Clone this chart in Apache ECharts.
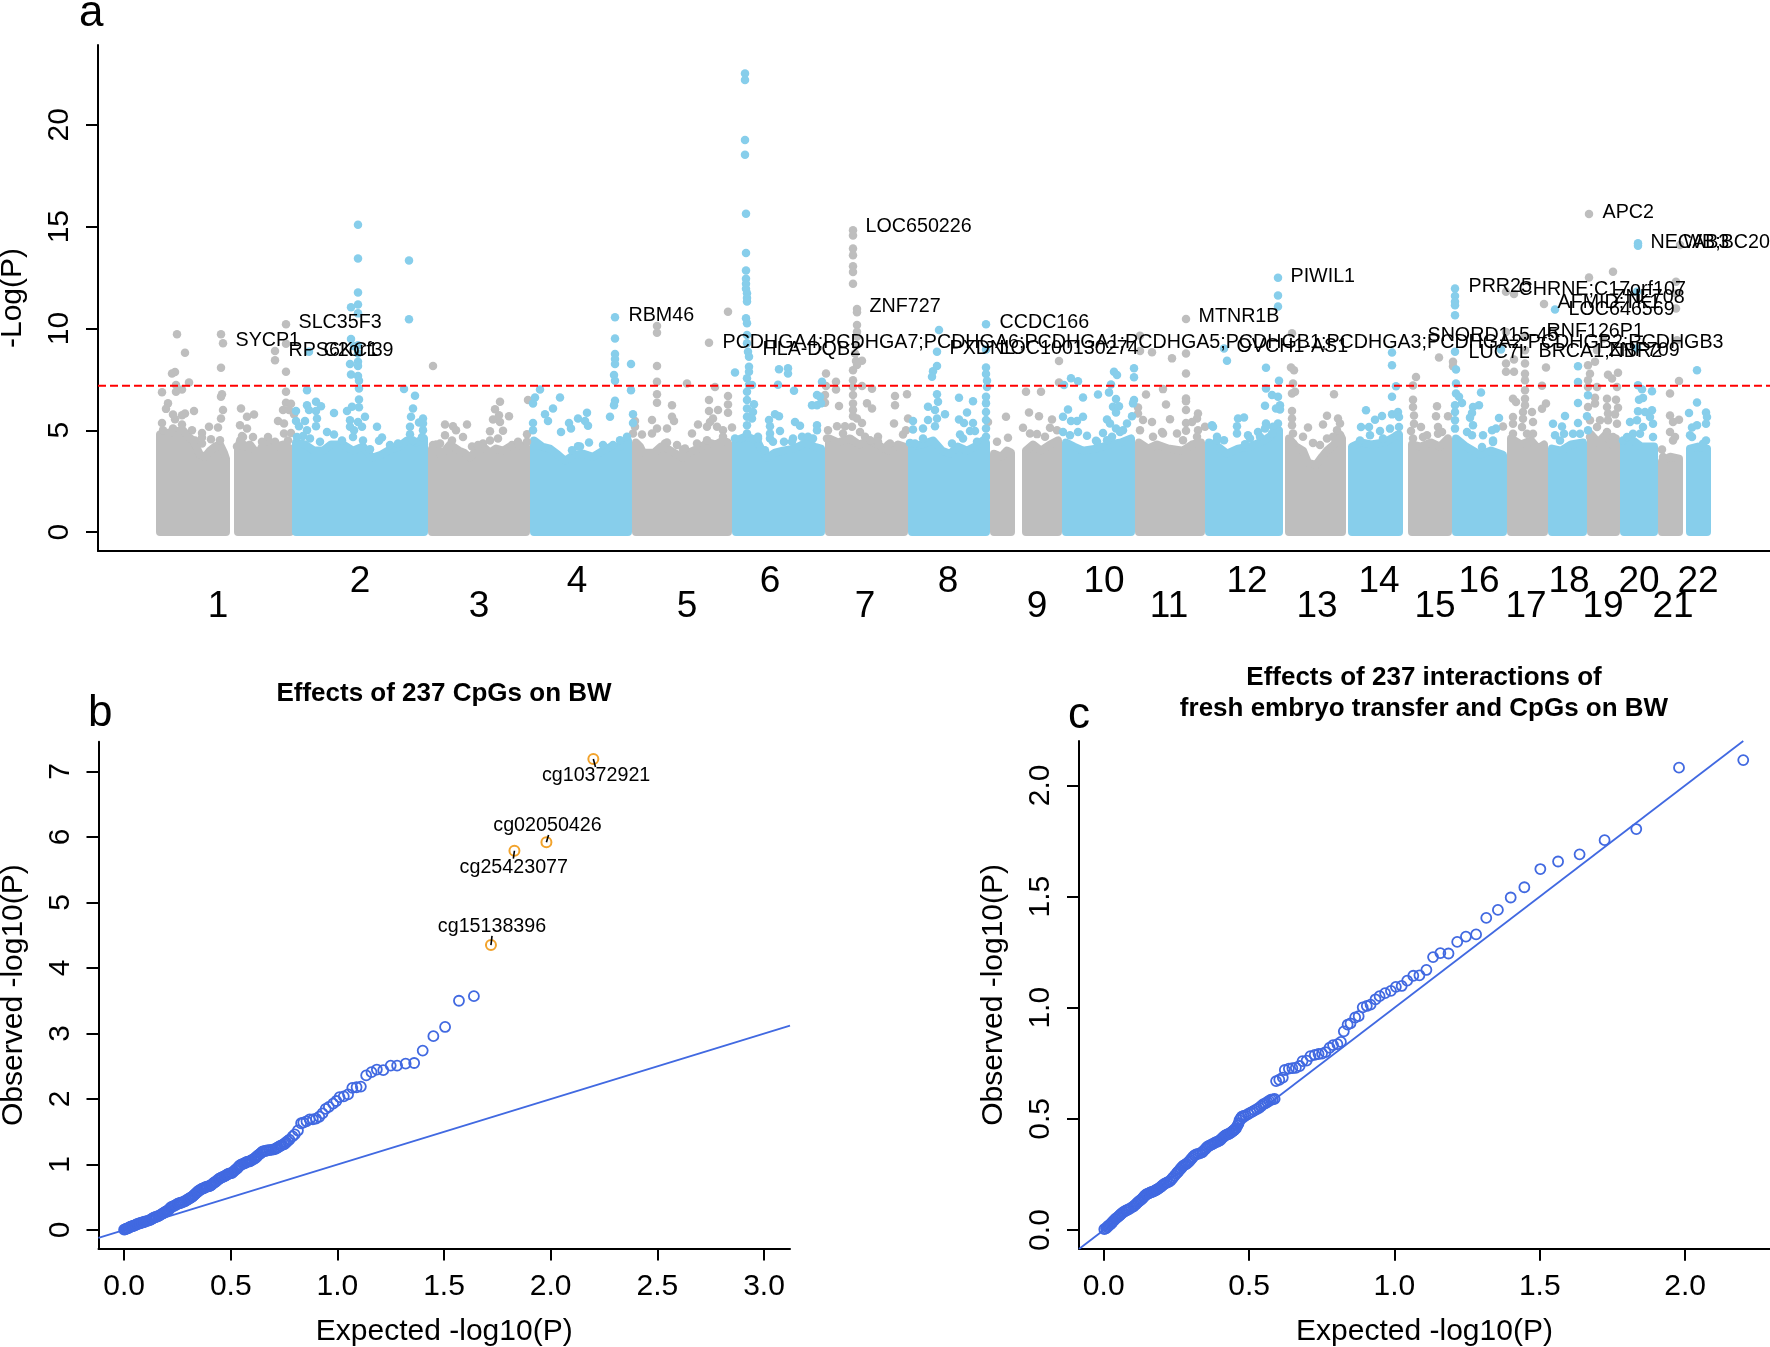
<!DOCTYPE html>
<html><head><meta charset="utf-8">
<style>html,body{margin:0;padding:0;background:#fff}#c{width:1770px;height:1347px}</style>
<script src="https://cdn.jsdelivr.net/npm/echarts@6/dist/echarts.min.js"></script>
</head><body><div id="c"></div>
<script>
const chrNames = ['1','2','3','4','5','6','7','8','9','10','11','12','13','14','15','16','17','18','19','20','21','22'];
const chrLabelPos = [62,204,323,421,531,614,709,792,881,948,1013,1091,1161,1223,1279,1323,1370,1413,1447,1483,1517,1542];
const threshold = 7.19;

// Upper envelope of the dense mass of each chromosome (genome position, -log P)
const grayMasses = [
 [[4,4.8],[15,4.9],[27,5.0],[32,4.7],[37,4.5],[41,4.1],[44,3.8],[49,3.7],[54,4.0],[59,4.2],[64,4.3],[68,3.9],[70,3.6]],
 [[82,4.0],[84,4.5],[89,4.2],[94,4.3],[100,3.9],[104,4.0],[108,4.4],[112,4.5],[120,4.2],[127,4.3],[134,4.1]],
 [[276,4.1],[280,4.3],[284,3.85],[289,4.0],[294,4.3],[303,4.0],[308,3.9],[314,3.65],[320,4.0],[327,4.2],[334,3.9],[340,4.1],[347,4.0],[354,4.2],[361,4.3],[370,4.2]],
 [[480,4.4],[484,4.2],[487,3.9],[498,3.9],[505,4.2],[511,4.1],[518,3.9],[527,3.65],[535,3.95],[544,4.15],[552,4.4],[560,4.3],[567,4.5],[572,4.4]],
 [[673,4.6],[682,4.4],[694,4.6],[703,4.3],[714,4.5],[722,4.3],[728,4.1],[734,4.0],[742,4.3],[748,4.2]],
 [[838,3.85],[845,3.7],[851,4.0],[855,3.9]],
 [[870,4.0],[877,4.3],[885,4.0],[894,4.3],[902,4.5]],
 [[983,4.4],[992,4.1],[1001,4.3],[1012,4.1],[1027,4.0],[1036,4.3],[1045,4.4]],
 [[1133,4.6],[1140,4.2],[1147,4.0],[1152,3.4],[1160,3.3],[1166,3.7],[1171,4.0],[1178,4.3],[1184,4.8],[1186,4.6]],
 [[1256,4.3],[1265,4.2],[1275,4.4],[1284,4.2],[1292,4.6]],
 [[1355,4.6],[1365,4.3],[1375,4.5],[1382,4.1],[1388,4.3]],
 [[1435,4.8],[1442,4.4],[1450,4.8],[1456,4.3],[1460,4.6]],
 [[1506,3.5],[1514,3.7],[1523,3.6]]
];
const blueMasses = [
 [[140,4.4],[149,4.3],[158,4.0],[167,4.0],[175,4.3],[187,4.3],[197,4.0],[207,4.2],[212,3.9],[216,3.65],[225,3.8],[234,4.05],[243,4.2],[251,4.5],[260,4.4],[268,4.6]],
 [[378,4.5],[386,4.2],[394,4.1],[402,3.8],[409,3.5],[418,3.8],[427,3.85],[437,3.7],[447,4.0],[455,4.2],[464,4.2],[472,4.5]],
 [[580,4.5],[590,4.7],[601,4.5],[606,4.0],[611,3.65],[619,3.9],[627,4.0],[638,4.1],[651,4.4],[658,4.2],[665,4.1]],
 [[756,4.2],[766,4.3],[777,4.5],[786,4.0],[794,3.85],[802,4.2],[811,4.0],[819,4.2],[827,4.5],[830,4.4]],
 [[910,4.4],[918,4.2],[927,4.0],[940,4.1],[954,4.3],[965,4.4],[975,4.6]],
 [[1053,4.4],[1062,4.2],[1071,3.85],[1082,4.1],[1094,4.2],[1108,4.5],[1123,5.0]],
 [[1196,4.2],[1205,4.4],[1215,4.3],[1228,4.4],[1243,4.8]],
 [[1300,4.6],[1310,4.2],[1324,3.8],[1335,4.0],[1347,3.8]],
 [[1396,4.1],[1405,4.0],[1415,4.3],[1427,4.4]],
 [[1468,4.4],[1477,4.5],[1485,4.2],[1498,4.2]],
 [[1534,4.1],[1542,4.2],[1551,4.1]]
];

const grayPoints = [
 [21,9.71],[65,9.71],[67,9.27],[29,8.81],[65,8.07],[19,7.86],[16,7.79],[33,7.35],[20,7.22],[26,7.0],[6,6.87],[20,6.89],[66,6.77],[65,6.64],[12,6.32],[10,6.05],[38,5.95],[67,5.99],[29,5.82],[26,5.74],[17,5.77],[19,5.54],[65,5.58],[6,5.36],[26,5.28],[53,5.17],[62,5.13],[36,5.0],[46,4.87],[46,4.64],[55,4.56],[64,4.51],
 [85,6.07],[91,5.66],[98,5.77],[84,5.25],[91,5.09],[86,4.72],[97,4.67],[112,4.67],
 [130,10.2],[130,9.25],[119,8.89],[119,8.44],[130,7.87],[130,6.89],[130,6.35],[135,6.3],[127,6.0],[133,6.0],[138,5.79],[122,5.45],[128,5.33],[128,4.84],[135,4.87],
 [289,5.28],[297,5.2],[311,5.28],[300,5.0],[289,4.76],[307,4.67],[277,8.15],[344,6.4],[339,6.03],[343,5.74],[353,5.69],[337,5.53],[344,5.41],[334,4.95],[347,4.97],[372,6.48],[371,4.8],[327,4.35],
 [501,10.12],[501,9.79],[501,8.15],[501,7.38],[501,6.77],[501,6.35],[531,7.3],[559,7.12],[553,6.48],[572,6.68],[572,6.27],[572,5.86],[553,5.95],[562,5.99],[516,6.23],[516,5.66],[518,5.45],[496,5.5],[511,5.09],[501,5.09],[496,4.84],[486,4.79],[479,5.45],[479,5.17],[557,5.58],[554,5.41],[542,5.28],[551,5.17],[536,4.84],[561,5.17],[567,5.0],[576,5.14],[477,4.84],[553,9.3],[572,10.82],[511,4.4],[527,4.05],
 [697,14.82],[697,14.57],[697,13.92],[697,13.6],[697,13.05],[697,12.77],[697,12.2],[701,10.95],[701,10.8],[701,10.17],[701,9.84],[701,9.6],[700,9.18],[699,8.77],[706,8.41],[700,8.4],[697,7.95],[701,8.2],[670,7.79],[680,7.38],[697,7.46],[697,7.13],[706,7.17],[680,7.0],[716,7.04],[670,7.17],[669,6.73],[669,6.35],[683,6.19],[697,6.73],[697,6.31],[697,5.99],[711,6.32],[716,6.07],[739,6.68],[739,6.23],[751,6.77],[752,5.58],[738,5.33],[747,4.79],[697,5.69],[701,5.58],[706,5.36],[696,5.17],[681,5.2],[689,5.2],[672,5.0],[704,4.92],[722,4.68],[709,4.68],[734,4.35],[750,5.0],
 [850,5.66],[841,4.43],[852,4.63],[832,5.41],[903,8.4],[903,7.35],[870,6.89],[885,6.89],[873,5.87],[883,5.69],[867,5.12],[896,5.53],[894,5.12],[874,4.84],[881,4.81],[901,5.0],[889,4.68],
 [984,9.64],[984,8.89],[996,8.83],[1016,8.53],[1030,8.77],[1030,10.46],[1030,7.79],[1007,7.02],[990,6.76],[1030,6.56],[1030,6.43],[1010,6.27],[1030,5.99],[982,6.12],[982,5.82],[987,5.5],[996,5.41],[1042,5.82],[1041,5.58],[1014,5.54],[1030,5.36],[1036,5.41],[1030,4.97],[1006,4.92],[1021,4.84],[1042,5.0],[1049,5.17],[984,5.0],
 [1136,9.76],[1135,8.08],[1138,7.95],[1137,7.3],[1136,6.81],[1139,6.89],[1178,6.77],[1136,5.95],[1136,5.58],[1136,5.25],[1171,5.71],[1152,5.14],[1167,5.28],[1182,5.58],[1184,5.33],[1147,4.68],[1137,4.84],[1171,4.6],[1157,4.38],[1181,5.0],
 [1260,7.62],[1257,7.2],[1283,8.57],[1297,8.36],[1297,8.14],[1257,6.5],[1257,6.14],[1258,5.73],[1258,5.32],[1281,6.18],[1280,5.69],[1292,5.69],[1255,4.96],[1265,5.16],[1282,5.16],[1271,4.75],[1286,4.91],[1257,4.59],
 [1350,11.8],[1358,11.69],[1350,9.83],[1369,9.59],[1358,8.47],[1350,8.28],[1350,7.87],[1358,7.87],[1369,8.28],[1369,8.93],[1369,7.78],[1369,7.46],[1369,6.96],[1369,6.55],[1357,6.55],[1360,6.39],[1369,6.23],[1367,5.9],[1376,5.9],[1357,5.65],[1367,5.57],[1377,5.41],[1347,5.19],[1357,5.32],[1366,5.16],[1388,11.2],[1390,8.08],[1386,7.18],[1390,6.31],[1386,6.06],[1377,4.83],
 [1433,15.62],[1433,12.5],[1457,12.78],[1432,8.19],[1439,8.36],[1434,7.78],[1432,7.46],[1452,7.73],[1456,7.54],[1462,7.82],[1441,7.13],[1461,7.13],[1432,7.13],[1439,6.6],[1451,6.55],[1460,6.5],[1439,6.31],[1432,6.14],[1451,6.14],[1462,6.11],[1452,5.82],[1459,5.78],[1444,5.49],[1434,5.49],[1452,5.49],[1461,5.32],[1441,5.16],[1451,4.91],[1441,8.93],[1447,9.5],
 [1520,12.29],[1520,11.72],[1520,10.98],[1524,14.1],[1523,7.42],[1514,6.8],[1521,9.42],[1514,5.73],[1523,5.52],[1517,5.41],[1514,4.92],[1506,4.05],[1519,4.67],
 [7,5.0],[17,5.09],[39,4.5],[46,4.35],[81,4.2],[87,4.67],[106,4.43],[119,4.43],[132,4.5],
 [277,4.27],[284,4.35],[296,4.5],[316,4.2],[322,4.27],[334,4.5],[342,4.6],[356,4.27],[362,4.43],[371,4.43],
 [509,4.35],[521,4.27],[529,4.1],[541,4.35],[551,4.51],[567,4.68],[671,4.6],[687,4.84],[714,4.51],[722,4.43],[732,4.27],
 [997,4.68],[1007,4.84],[1027,4.51],[1041,4.68],[1137,4.35],[1164,4.27],[1177,4.68],[1267,4.67],[1282,4.83],[1357,4.83],[1371,4.83],[1434,4.67],[1457,4.67],[1517,4.5],[1507,3.69]
];
const bluePoints = [
 [202,15.09],[202,13.43],[253,13.34],[202,11.76],[195,11.04],[202,11.18],[202,10.74],[253,10.45],[195,9.48],[202,9.18],[198,9.13],[153,8.85],[202,8.77],[194,8.25],[202,8.36],[202,8.15],[195,7.74],[202,7.66],[203,7.43],[203,7.05],[151,6.97],[248,7.03],[259,6.7],[203,6.51],[203,6.13],[196,6.15],[191,5.94],[151,6.23],[160,6.4],[165,6.18],[153,5.99],[160,5.95],[178,5.85],[161,5.58],[257,6.07],[255,5.66],[267,5.58],[263,5.38],[254,5.17],[267,5.0],[140,5.95],[149,5.46],[140,5.45],[143,5.2],[160,5.2],[151,5.0],[147,4.72],[194,5.49],[209,5.66],[202,5.41],[194,5.17],[206,5.17],[198,5.0],[221,5.17],[171,4.92],[178,4.79],[226,4.64],[223,4.48],[214,4.07],[254,4.8],
 [384,7.0],[379,6.61],[377,6.31],[389,5.79],[392,5.45],[377,5.36],[377,5.0],[397,6.07],[404,6.61],[413,5.36],[415,5.09],[422,5.58],[431,5.86],[429,5.45],[432,5.22],[405,4.92],[433,4.4],[447,4.27],[422,4.22],[416,4.02],[464,4.51],[471,4.68],[459,10.55],[459,9.51],[459,8.74],[459,8.5],[459,8.25],[458,7.71],[459,7.43],[475,8.25],[475,6.97],[459,6.45],[458,6.23],[454,5.66],[477,5.79],[477,5.36],
 [589,22.52],[589,22.2],[589,19.25],[589,18.53],[590,15.63],[590,13.7],[590,12.85],[590,12.44],[590,12.2],[590,11.95],[591,11.73],[591,11.5],[591,11.32],[590,10.5],[591,10.25],[591,9.68],[591,9.27],[592,8.86],[593,8.61],[593,8.12],[593,7.87],[591,7.55],[593,7.22],[591,6.89],[591,6.48],[591,6.07],[591,5.66],[591,5.25],[591,4.84],[579,7.84],[623,8.0],[632,8.04],[632,7.79],[596,7.22],[622,7.23],[638,6.94],[598,6.28],[597,5.9],[596,5.58],[619,5.79],[623,5.69],[613,5.5],[614,5.2],[639,5.41],[644,5.22],[624,4.96],[614,4.84],[614,4.6],[617,4.43],[602,4.68],[661,5.25],[661,5.0],[637,4.6],[646,4.68],[652,4.68],[628,4.43],[666,7.38],[661,6.73],[664,6.64],[656,6.23],[661,6.23],[665,6.32],
 [783,9.92],[781,8.86],[781,8.15],[777,7.9],[776,7.63],[781,6.77],[782,6.4],[772,6.15],[779,5.99],[789,5.79],[781,5.58],[772,5.5],[779,5.2],[767,5.09],[757,5.46],[757,5.04],[754,4.38],[803,6.6],[817,6.43],[811,5.87],[803,5.53],[808,5.36],[817,5.36],[814,4.96],[819,4.96],[804,4.79],[821,4.43],[796,4.35],[807,4.6],[830,10.2],[830,8.97],[830,8.08],[830,7.76],[831,7.43],[831,7.13],[830,6.64],[830,6.32],[830,5.9],[830,5.5],[830,5.09],[830,4.68],
 [915,7.55],[922,7.41],[908,7.22],[927,6.61],[942,6.76],[953,6.86],[955,7.25],[958,7.87],[961,7.71],[978,8.04],[978,7.6],[960,6.53],[957,6.15],[963,6.18],[960,5.87],[978,6.48],[977,6.32],[912,6.02],[907,5.66],[915,5.46],[921,5.46],[927,5.66],[951,5.53],[954,5.33],[976,5.69],[960,5.09],[971,5.33],[967,5.0],[947,4.87],[956,4.68],[931,4.73],[907,4.92],[922,4.92],[940,4.48],
 [1122,12.49],[1122,11.62],[1122,11.08],[1068,9.02],[1071,8.41],[1110,8.07],[1123,7.43],[1110,7.05],[1116,6.73],[1122,6.64],[1124,6.23],[1109,6.2],[1120,6.07],[1124,6.02],[1082,5.58],[1088,5.63],[1110,5.33],[1081,5.2],[1122,5.33],[1117,5.17],[1056,5.25],[1057,5.17],[1081,4.84],[1092,4.76],[1102,4.92],[1061,4.68],[1068,4.51],[1089,4.31],[1109,5.09],
 [1236,8.82],[1236,8.19],[1240,7.16],[1236,6.64],[1210,5.98],[1236,5.78],[1242,5.9],[1243,5.65],[1226,5.7],[1219,5.52],[1205,5.16],[1213,5.16],[1234,5.08],[1243,5.16],[1224,4.96],[1214,4.75],[1204,4.5],
 [1299,11.96],[1299,11.59],[1299,11.31],[1299,11.14],[1299,10.65],[1299,8.85],[1300,7.98],[1300,7.29],[1300,6.8],[1303,6.64],[1306,6.34],[1299,6.23],[1299,5.9],[1299,5.49],[1299,5.08],[1325,6.85],[1323,6.23],[1317,6.14],[1316,5.85],[1314,5.62],[1317,5.24],[1311,4.91],[1327,4.75],[1343,5.6],[1340,5.08],[1336,5.0],[1337,4.5],[1345,8.96],[1326,4.18],
 [1399,10.93],[1422,8.14],[1422,7.37],[1432,6.72],[1422,6.34],[1409,5.7],[1397,5.32],[1406,5.19],[1422,5.36],[1408,4.83],[1399,4.75],[1417,4.83],[1432,5.0],[1431,5.69],
 [1482,14.18],[1482,14.06],[1481,11.8],[1481,9.01],[1482,7.21],[1486,7.01],[1496,6.91],[1487,6.59],[1483,6.5],[1482,5.93],[1489,5.9],[1496,5.98],[1474,5.41],[1481,5.49],[1494,5.65],[1497,5.32],[1487,5.16],[1477,4.83],[1497,4.67],[1467,4.5],
 [1541,7.95],[1541,6.36],[1533,5.85],[1550,5.87],[1551,5.65],[1550,5.32],[1541,5.24],[1536,5.13],[1534,4.75],[1550,4.5],
 [141,4.67],[154,4.6],[164,4.43],[186,4.5],[197,4.67],[207,4.5],[234,4.27],[242,4.35],[257,4.5],[266,4.67],[267,5.33],
 [424,4.2],[457,4.27],[579,4.6],[602,4.6],[609,4.02],[636,4.43],[657,4.6],[767,4.6],[759,4.35],
 [914,4.76],[941,4.43],[951,4.51],[964,4.92],[1061,4.51],[1094,4.6],[1104,4.68],[1116,4.84],
 [1227,4.59],[1241,4.75],[1316,4.75],[1337,4.42],[1404,4.5],[1424,4.83],[1471,4.67],[1484,4.83],[1536,4.67],[1547,4.34]
];

const geneLabels = [
 ['SYCP1',79,9.38],['SLC35F3',142,10.27],['RPS6KC1',132,8.89],['C2orf39',167,8.89],['RBM46',472,10.65],
 ['PCDHGA4;PCDHGA7;PCDHGA6;PCDHGA1;PCDHGA5;PCDHGB1;PCDHGA3;PCDHGA2;PCDHGB2;PCDHGB3',566,9.33],
 ['HLA-DQB2',606,8.98],['ZNF727',713,11.07],['LOC650226',709,14.98],['CCDC166',843,10.28],['PXDNL',793,8.99],
 ['LOC100130274',843,8.99],['MTNR1B',1042,10.6],['OVCH1-AS1',1080,9.11],['PIWIL1',1134,12.54],['SNORD115-45',1271,9.67],
 ['PRR25',1312,12.05],['LUC7L',1312,8.82],['CHRNE;C17orf107',1362,11.92],['AFMID;TK1',1401,11.27],['LOC646569',1412,10.95],
 ['ZNF708',1457,11.5],['RNF126P1',1390,9.84],['BRCA1;NBR2',1382,8.88],['ZNF709',1452,8.93],['APC2',1446,15.69],
 ['NECAB3',1494,14.2],['WB;BC20',1527,14.2]
];

// QQ panel b
const bExpected = [2.20,1.98,1.83,1.72,1.64,1.57,1.505,1.45,1.40,1.36,1.32,1.28,1.25,1.215,1.185,1.16,1.135,1.11,1.09,1.07,1.05,1.03,1.01,0.995,0.98,0.96,0.945,0.93,0.915,0.90,0.885,0.87,0.855,0.84,0.83,0.815,0.80,0.79,0.775,0.76,0.75,0.735,0.72,0.71,0.70,0.68,0.665,0.65,0.64,0.625,0.615,0.60,0.59,0.575,0.565,0.55,0.54,0.53,0.515,0.505,0.49,0.48,0.47,0.455,0.445,0.43,0.42,0.41,0.40,0.385,0.375,0.365,0.35,0.34,0.33,0.32,0.31,0.30,0.285,0.27,0.26,0.25,0.235,0.22,0.21,0.20,0.19,0.18,0.165,0.15,0.14,0.13,0.12,0.10,0.09,0.08,0.07,0.06,0.05,0.04,0.03,0.02,0.01,0.005,0.0,
 .015,.025,.035,.045,.055,.065,.075,.085,.095,.11,.125,.135,.145,.158,.172,.185,.195,.205,.215,.228,.243,.255,.265,.278,.292,.305,.315,.325,.335,.345,.358,.37,.38,.392,.405,.415,.425,.437,.45,.462,.475,.485,.498,.51,.522,.535,.545,.558,.57,.582,.595,.608,.62,.632,.645,.658,.672,.69,.715,.728,.742,.755,.768];
const bObserved = [7.19,5.92,5.79,4.35,3.57,3.50,3.10,2.96,2.74,2.55,2.54,2.51,2.51,2.44,2.45,2.41,2.36,2.19,2.18,2.17,2.07,2.04,2.03,1.97,1.93,1.88,1.85,1.78,1.73,1.70,1.69,1.69,1.66,1.64,1.63,1.52,1.46,1.43,1.38,1.34,1.31,1.29,1.26,1.24,1.23,1.22,1.21,1.20,1.17,1.13,1.10,1.07,1.05,1.04,1.02,1.0,0.98,0.94,0.90,0.87,0.86,0.84,0.82,0.80,0.78,0.74,0.72,0.69,0.67,0.66,0.64,0.63,0.60,0.57,0.54,0.51,0.49,0.47,0.44,0.42,0.41,0.40,0.37,0.35,0.31,0.29,0.27,0.25,0.22,0.20,0.19,0.17,0.15,0.13,0.12,0.11,0.10,0.09,0.07,0.06,0.05,0.03,0.02,0.01,0.005,
 .025,.04,.055,.065,.08,.095,.105,.115,.125,.14,.16,.18,.195,.21,.235,.26,.28,.30,.33,.36,.385,.405,.415,.43,.455,.48,.50,.525,.555,.585,.615,.635,.65,.665,.68,.705,.73,.76,.79,.81,.83,.85,.865,.885,.92,.96,.99,1.01,1.03,1.045,1.06,1.085,1.115,1.15,1.185,1.205,1.215,1.225,1.25,1.275,1.30,1.325,1.36];
const bCallouts = ['cg10372921','cg02050426','cg25423077','cg15138396'];
const bCalloutX = [2.20,1.98,1.83,1.72];
const bCalloutY = [7.19,5.92,5.79,4.35];
const bLabelX = [2.213,1.985,1.827,1.725];
const bLabelY = [6.94,6.17,5.54,4.63];
const bStemEndX = [2.21,1.99,1.825,1.725];
const bStemEndY = [7.07,6.03,5.67,4.49];

// QQ panel c
const cExpected = [2.20,1.979,1.832,1.723,1.637,1.563,1.502,1.447,1.40,1.356,1.316,1.281,1.246,1.216,1.186,1.158,1.133,1.11,1.086,1.065,1.044,1.025,1.005,.988,.968,.949,.935,.918,.905,.891,.877,.865,.849,.839,.826,.816,.804,.789,.777,.763,.751,.739,.726,.711,.698,.684,.674,.661,.649,.637,.623,.616,.604,.593,.588,.582,.575,.569,.563,.556,.549,.542,.535,.527,.519,.512,.505,.497,.488,.481,.475,.471,.467,.464,.46,.455,.449,.443,.435,.427,.418,.41,.40,.39,.379,.367,.356,.348,.339,.325,.312,.303,.295,.285,.274,.266,.258,.25,.238,.228,.217,.207,.198,.188,.18,.172,.163,.155,.146,.137,.128,.12,.112,.102,.087,.077,.067,.058,.05,.04,.03,.023,.015,.008,.002,
 .012,.019,.027,.035,.045,.054,.062,.072,.082,.094,.107,.116,.124,.133,.141,.15,.159,.167,.176,.184,.193,.202,.212,.222,.233,.244,.254,.262,.27,.28,.29,.299,.307,.318,.332,.343,.352,.361,.373,.384,.395,.405,.414,.422,.431,.439,.446,.452];
const cObserved = [2.114,2.08,1.804,1.754,1.69,1.658,1.624,1.542,1.496,1.44,1.404,1.33,1.32,1.296,1.244,1.246,1.228,1.17,1.146,1.144,1.122,1.098,1.094,1.076,1.066,1.052,1.038,1.014,1.008,1.002,.962,.956,.93,.924,.894,.846,.836,.832,.82,.80,.794,.792,.788,.782,.762,.76,.738,.73,.728,.726,.72,.686,.676,.67,.59,.588,.586,.581,.576,.57,.566,.558,.55,.544,.538,.533,.528,.522,.516,.513,.51,.502,.494,.48,.47,.458,.45,.444,.436,.431,.426,.417,.404,.397,.39,.382,.374,.362,.35,.343,.336,.322,.31,.298,.29,.278,.265,.254,.235,.22,.213,.206,.196,.186,.18,.174,.17,.165,.16,.148,.136,.128,.118,.106,.094,.088,.08,.07,.06,.05,.036,.026,.018,.008,.004,
 .013,.022,.031,.043,.055,.065,.075,.084,.091,.1,.112,.123,.132,.142,.154,.162,.168,.172,.177,.183,.191,.201,.21,.216,.228,.245,.26,.272,.284,.294,.304,.316,.329,.34,.346,.356,.368,.378,.386,.394,.4,.41,.421,.428,.433,.44,.447,.454];
const bLineEnds = [-0.12,3.122];
const cLineEnds = [-0.085,2.2];

const FONT = 'Liberation Sans';
const GRAY = '#BEBEBE', SKY = '#87CEEB', ROYAL = '#4169E1', ORANGE = '#F2A32C';

const axisLine = {show:true,lineStyle:{color:'#000',width:2}};
function qqXAxis(i,min,max,vals){
  return {gridIndex:i,type:'value',min,max,splitLine:{show:false},axisLine:{...axisLine,onZero:false},
    axisTick:{show:true,length:12,customValues:vals,lineStyle:{color:'#000',width:2}},
    axisLabel:{show:true,customValues:vals,showMinLabel:true,showMaxLabel:true,formatter:v=>v.toFixed(1),fontFamily:FONT,fontSize:30,color:'#000',margin:23},
    name:'Expected -log10(P)',nameLocation:'middle',nameGap:68,nameTextStyle:{fontFamily:FONT,fontSize:30,color:'#000'}};
}
function qqYAxis(i,min,max,vals,fmt,gap){
  return {gridIndex:i,type:'value',min,max,splitLine:{show:false},axisLine:{...axisLine,onZero:false},
    axisTick:{show:true,length:12,customValues:vals,lineStyle:{color:'#000',width:2}},
    axisLabel:{show:true,customValues:vals,showMinLabel:true,showMaxLabel:true,rotate:90,formatter:fmt,fontFamily:FONT,fontSize:30,color:'#000',margin:23},
    name:'Observed -log10(P)',nameLocation:'middle',nameRotate:90,nameGap:gap,nameTextStyle:{fontFamily:FONT,fontSize:30,color:'#000'}};
}
function chrAxis(offsetIndex,margin,lineShown){
  const vals = chrLabelPos.filter((p,i)=>i%2===offsetIndex);
  return {gridIndex:0,type:'value',position:'bottom',min:-58,max:1614,splitLine:{show:false},
    axisLine:lineShown?{...axisLine,onZero:false}:{show:false,onZero:false},axisTick:{show:false},
    axisLabel:{show:true,customValues:vals,showMinLabel:true,showMaxLabel:true,
      formatter:v=>chrNames[chrLabelPos.indexOf(v)],
      fontFamily:FONT,fontSize:37,lineHeight:25,color:'#000',margin,verticalAlign:'top',hideOverlap:false}};
}
function mass(points,color){
  const first = points[0][0], last = points[points.length-1][0];
  const d = [[first,0],...points,[last,0],[first,0]];
  return {type:'line',xAxisIndex:0,yAxisIndex:0,data:d,symbol:'none',silent:true,animation:false,
    lineStyle:{color,width:8,join:'round',cap:'round'},areaStyle:{color,opacity:1},z:2};
}
const series = [];
const chromMasses = [...grayMasses.map(m=>[m,GRAY]),...blueMasses.map(m=>[m,SKY])].sort((a,b)=>a[0][0][0]-b[0][0][0]);
chromMasses.forEach(([m,c])=>series.push(mass(m,c)));
series.push({type:'scatter',xAxisIndex:0,yAxisIndex:0,data:grayPoints,symbolSize:8.5,itemStyle:{color:GRAY,opacity:1},silent:true,z:3});
series.push({type:'scatter',xAxisIndex:0,yAxisIndex:0,data:bluePoints,symbolSize:8.5,itemStyle:{color:SKY,opacity:1},silent:true,z:3});
series.push({type:'line',xAxisIndex:0,yAxisIndex:0,data:[[-58,threshold],[1614,threshold]],symbol:'none',silent:true,
  lineStyle:{color:'#FF0000',width:2,type:[8,4]},z:5});
series.push({type:'scatter',xAxisIndex:0,yAxisIndex:0,silent:true,symbolSize:1,itemStyle:{color:'rgba(0,0,0,0)',opacity:1},z:6,clip:false,
  data:geneLabels.map(g=>({name:g[0],value:[g[1],g[2]]})),
  label:{show:true,position:'right',distance:0,formatter:'{b}',fontFamily:FONT,fontSize:19.7,color:'#000'},labelLayout:{hideOverlap:false}});

// panel b
series.push({type:'line',xAxisIndex:1,yAxisIndex:1,data:bLineEnds.map(v=>[v,v]),symbol:'none',silent:true,lineStyle:{color:ROYAL,width:1.8},z:2});
series.push({type:'scatter',xAxisIndex:1,yAxisIndex:1,silent:true,symbolSize:10,z:3,
  data:bExpected.map((x,i)=>[x,bObserved[i]]).filter(p=>!bCalloutX.includes(p[0])),
  itemStyle:{color:'rgba(0,0,0,0)',borderColor:ROYAL,borderWidth:1.8,opacity:1}});
series.push({type:'scatter',xAxisIndex:1,yAxisIndex:1,silent:true,symbolSize:10,z:3,
  data:bCalloutX.map((x,i)=>[x,bCalloutY[i]]),
  itemStyle:{color:'rgba(0,0,0,0)',borderColor:ORANGE,borderWidth:2,opacity:1}});
bCallouts.forEach((n,i)=>{
  series.push({type:'line',xAxisIndex:1,yAxisIndex:1,silent:true,symbol:'none',z:4,
    data:[[bCalloutX[i],bCalloutY[i]],[bStemEndX[i],bStemEndY[i]]],lineStyle:{color:'#000',width:1.6}});
});
series.push({type:'scatter',xAxisIndex:1,yAxisIndex:1,silent:true,symbolSize:1,itemStyle:{color:'rgba(0,0,0,0)',opacity:1},z:5,
  data:bCallouts.map((n,i)=>({name:n,value:[bLabelX[i],bLabelY[i]]})),
  label:{show:true,position:'inside',formatter:'{b}',fontFamily:FONT,fontSize:19.7,color:'#000'}});

// panel c
series.push({type:'line',xAxisIndex:2,yAxisIndex:2,data:cLineEnds.map(v=>[v,v]),symbol:'none',silent:true,lineStyle:{color:ROYAL,width:1.8},z:2});
series.push({type:'scatter',xAxisIndex:2,yAxisIndex:2,silent:true,symbolSize:10,z:3,
  data:cExpected.map((x,i)=>[x,cObserved[i]]),
  itemStyle:{color:'rgba(0,0,0,0)',borderColor:ROYAL,borderWidth:1.8,opacity:1}});

const titleStyle = {fontFamily:FONT,fontSize:26,fontWeight:'bold',color:'#000',lineHeight:31,align:'center'};
const letterStyle = {fontFamily:FONT,fontSize:44,fontWeight:'normal',color:'#000'};
const option = {
  animation:false,backgroundColor:'#fff',
  title:[
    {text:'a',left:79,top:-8,padding:0,textStyle:letterStyle},
    {text:'b',left:88,top:692,padding:0,textStyle:letterStyle},
    {text:'c',left:1068,top:694,padding:0,textStyle:letterStyle},
    {text:'Effects of 237 CpGs on BW',left:444,top:678,padding:0,textAlign:'center',textStyle:titleStyle},
    {text:'Effects of 237 interactions of\nfresh embryo transfer and CpGs on BW',left:1424,top:662,padding:0,textAlign:'center',textStyle:titleStyle}
  ],
  grid:[
    {left:98,right:0,top:45,bottom:796,containLabel:false,outerBoundsMode:'none'},
    {left:98.5,right:980,top:741.7,bottom:98.5,containLabel:false,outerBoundsMode:'none'},
    {left:1079,right:0,top:741,bottom:98.3,containLabel:false,outerBoundsMode:'none'}
  ],
  xAxis:[
    chrAxis(1,18,true),
    qqXAxis(1,-0.12,3.122,[0,0.5,1,1.5,2,2.5,3]),
    qqXAxis(2,-0.085,2.292,[0,0.5,1,1.5,2]),
    chrAxis(0,43,false)
  ],
  yAxis:[
    {gridIndex:0,type:'value',min:-0.93,max:23.92,splitLine:{show:false},axisLine:{...axisLine,onZero:false},
     axisTick:{show:true,length:12,customValues:[0,5,10,15,20],lineStyle:{color:'#000',width:2}},
     axisLabel:{show:true,customValues:[0,5,10,15,20],showMinLabel:true,showMaxLabel:true,rotate:90,formatter:v=>String(v),fontFamily:FONT,fontSize:30,color:'#000',margin:23},
     name:'-Log(P)',nameLocation:'middle',nameRotate:90,nameGap:70,nameTextStyle:{fontFamily:FONT,fontSize:30,color:'#000'}},
    qqYAxis(1,-0.282,7.455,[0,1,2,3,4,5,6,7],v=>String(v),70),
    qqYAxis(2,-0.084,2.2,[0,0.5,1,1.5,2],v=>v.toFixed(1),70)
  ],
  series
};
const chart = echarts.init(document.getElementById('c'),null,{renderer:'canvas'});
chart.setOption(option);
</script></body></html>
